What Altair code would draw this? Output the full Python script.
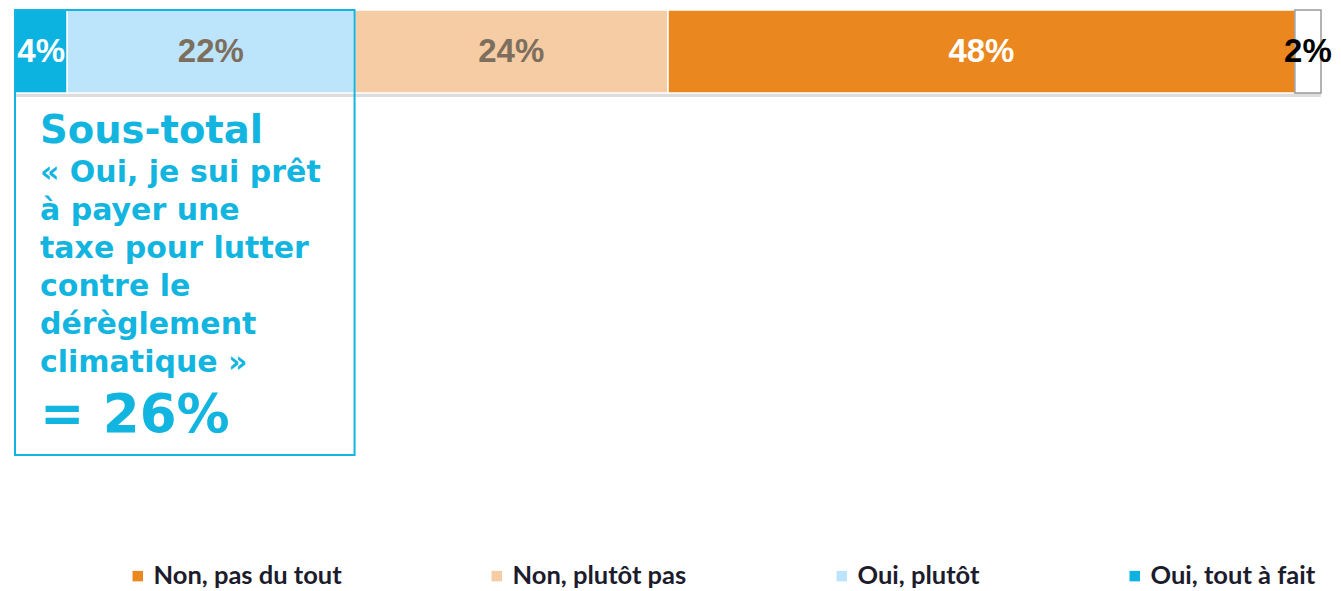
import altair as alt
import pandas as pd

categories = ["Oui, tout à fait", "Oui, plutôt", "Non, plutôt pas", "Non, pas du tout", "Ne se prononce pas"]
values = [4, 22, 24, 48, 2]
colors = ["#0cb3e0", "#bce5fb", "#f5cca3", "#ea871e", "#ffffff"]
strokes = ["#ffffff", "#ffffff", "#ffffff", "#ffffff", "#9a9a9a"]
label_colors = ["#ffffff", "#7d6e5e", "#7d6e5e", "#ffffff", "#000000"]
legend_order = ["Non, pas du tout", "Non, plutôt pas", "Oui, plutôt", "Oui, tout à fait"]
subtotal_title = "Sous-total"
subtotal_lines = ["« Oui, je sui prêt", "à payer une", "taxe pour lutter", "contre le", "dérèglement", "climatique »"]

starts, ends = [], []
acc = 0
for v in values:
    starts.append(acc)
    acc += v
    ends.append(acc)

df = pd.DataFrame({
    "cat": categories, "value": values, "start": starts, "end": ends,
    "mid": [(s + e) / 2 for s, e in zip(starts, ends)],
    "label": [f"{v}%" for v in values],
    "lcolor": label_colors, "stroke": strokes,
})

oui_total = sum(v for c, v in zip(categories, values) if c.startswith("Oui"))
box_df = pd.DataFrame({"start": [0], "end": [oui_total],
                       "title": [subtotal_title],
                       "body": ["\n".join(subtotal_lines)],
                       "total": [f"= {oui_total}%"]})

xs = alt.Scale(domain=[0, 100], nice=False, zero=False)
X = lambda f: alt.X(f, type="quantitative", scale=xs, axis=None)

cyan = "#12b5e0"

shadow = alt.Chart(df).mark_rect(color="#cfcfcf", opacity=0.7).encode(
    x=X("start"), x2="end", y=alt.value(83), y2=alt.value(87))

bars = alt.Chart(df).mark_rect(strokeWidth=1.5).encode(
    x=X("start"), x2="end", y=alt.value(0), y2=alt.value(83),
    color=alt.Color("cat:N", scale=alt.Scale(domain=categories, range=colors),
                    legend=alt.Legend(values=legend_order, title=None, orient="none",
                                      legendX=110, legendY=553, direction="horizontal",
                                      columns=4, columnPadding=142, symbolType="square",
                                      symbolSize=110, symbolStrokeWidth=0, labelOffset=3,
                                      labelFont="Lato", labelFontWeight="bold",
                                      labelFontSize=25.5, labelColor="#1c1c2c",
                                      labelLimit=400)),
    stroke=alt.Stroke("stroke:N", scale=None))

labels = alt.Chart(df).mark_text(font="Liberation Sans", fontWeight="bold", fontSize=33,
                                 baseline="middle").encode(
    x=X("mid"), y=alt.value(42), text="label:N", color=alt.Color("lcolor:N", scale=None))

box = alt.Chart(box_df).mark_rect(fillOpacity=0, stroke=cyan, strokeWidth=2).encode(
    x=X("start"), x2="end", y=alt.value(0), y2=alt.value(445))

t_title = alt.Chart(box_df).mark_text(font="DejaVu Sans", fontWeight="bold", fontSize=38.5,
                                      align="left", baseline="alphabetic", color=cyan).encode(
    x=alt.value(25), y=alt.value(133), text="title:N")

t_body = alt.Chart(box_df).mark_text(font="DejaVu Sans", fontWeight="bold", fontSize=30,
                                     align="left", baseline="alphabetic", color=cyan,
                                     lineBreak="\n", lineHeight=38).encode(
    x=alt.value(25), y=alt.value(172), text="body:N")

t_total = alt.Chart(box_df).mark_text(font="DejaVu Sans", fontWeight="bold", fontSize=53,
                                      align="left", baseline="alphabetic", color=cyan).encode(
    x=alt.value(25), y=alt.value(422), text="total:N")

chart = alt.layer(shadow, bars, labels, box, t_title, t_body, t_total).properties(
    width=1306, height=581, autosize=alt.AutoSizeParams(type="none"),
    padding={"left": 7, "top": 2, "right": 12, "bottom": 0}
).configure_view(stroke=None)

chart.save("out.html", embed_options={"renderer": "svg", "actions": False})
